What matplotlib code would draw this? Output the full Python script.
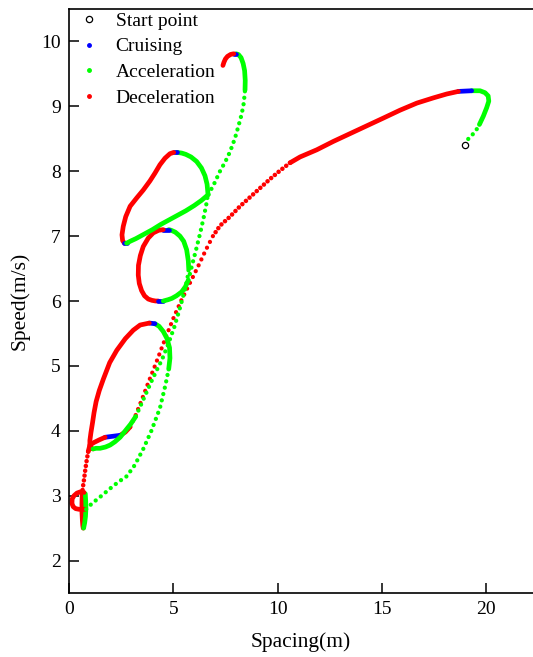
import matplotlib
matplotlib.use("Agg")
import matplotlib.pyplot as plt
from matplotlib.lines import Line2D

plt.rcParams['font.family'] = ['Liberation Serif', 'DejaVu Serif']

#Start point of the trajectory
start_x = [18.99]
start_y = [8.41]

#Trajectory pieces, in time order (spacing in m, speed in m/s)
acc1a_x = [18.99, 19.15, 19.31, 19.52, 19.68]
acc1a_y = [8.41, 8.50, 8.55, 8.63, 8.72]
acc1b_x = [19.68, 19.87, 20.03, 20.13, 20.10, 19.95, 19.71, 19.31]
acc1b_y = [8.72, 8.85, 8.98, 9.08, 9.16, 9.21, 9.24, 9.24]
cru1_x = [19.31, 18.67]
cru1_y = [9.24, 9.23]
dec1a_x = [18.67, 18.11, 17.47, 16.68, 15.87, 15.08, 14.28, 13.48, 12.68, 11.88, 11.08, 10.60]
dec1a_y = [9.23, 9.19, 9.13, 9.05, 8.94, 8.82, 8.70, 8.58, 8.46, 8.33, 8.22, 8.13]
dec1b_x = [10.60, 10.12, 9.64, 9.16, 8.68, 8.20, 7.72, 7.24, 6.90]
dec1b_y = [8.13, 8.01, 7.88, 7.74, 7.60, 7.46, 7.30, 7.16, 7.00]
dec1c_x = [6.90, 6.55, 6.20, 5.80, 5.40, 5.05, 4.75, 4.45, 4.12, 3.80, 3.48, 3.17, 2.93]
dec1c_y = [7.00, 6.78, 6.54, 6.28, 6.02, 5.77, 5.53, 5.28, 5.00, 4.74, 4.47, 4.22, 4.06]
dec1d_x = [2.93, 2.70, 2.45]
dec1d_y = [4.06, 3.98, 3.93]
cru2_x = [2.45, 1.73]
cru2_y = [3.93, 3.90]
dec2a_x = [1.73, 1.45, 1.20, 1.00, 0.92]
dec2a_y = [3.90, 3.86, 3.82, 3.78, 3.68]
dec2b_x = [0.92, 0.85, 0.78, 0.72, 0.66, 0.63]
dec2b_y = [3.68, 3.55, 3.40, 3.25, 3.12, 3.02]
dec2c_x = [0.63, 0.62, 0.62, 0.64, 0.66, 0.68]
dec2c_y = [3.02, 2.88, 2.75, 2.62, 2.54, 2.50]
acc2_x = [0.70, 0.75, 0.79, 0.81, 0.80, 0.78]
acc2_y = [2.50, 2.58, 2.68, 2.80, 2.92, 3.03]
dec3_x = [0.72, 0.55, 0.38, 0.24, 0.15, 0.14, 0.20, 0.32, 0.48, 0.62, 0.78]
dec3_y = [3.05, 3.06, 3.04, 3.00, 2.95, 2.88, 2.83, 2.80, 2.79, 2.79, 2.79]
acc3a_x = [0.82, 1.10, 1.49, 1.97, 2.36, 2.77, 3.15, 3.56, 3.95, 4.36, 4.62, 4.78]
acc3a_y = [2.79, 2.88, 2.98, 3.11, 3.21, 3.30, 3.47, 3.72, 4.00, 4.35, 4.70, 4.95]
acc3b_x = [4.78, 4.84, 4.82, 4.70, 4.52, 4.32, 4.12]
acc3b_y = [4.95, 5.12, 5.28, 5.42, 5.53, 5.61, 5.65]
cru3_x = [4.12, 3.85]
cru3_y = [5.65, 5.66]
dec4_x = [3.85, 3.41, 3.08, 2.70, 2.29, 1.95, 1.65, 1.45, 1.30, 1.20, 1.13, 1.05, 1.00, 1.00, 1.05, 1.15]
dec4_y = [5.66, 5.63, 5.55, 5.42, 5.24, 5.05, 4.80, 4.62, 4.45, 4.28, 4.13, 3.97, 3.85, 3.77, 3.73, 3.72]
acc4a_x = [1.15, 1.30, 1.49, 1.75, 1.97, 2.20, 2.45, 2.70, 2.95, 3.20]
acc4a_y = [3.72, 3.73, 3.73, 3.75, 3.78, 3.83, 3.90, 4.00, 4.10, 4.22]
acc4b_x = [3.20, 3.45, 3.70, 3.95, 4.20, 4.45, 4.75, 5.05, 5.30, 5.52, 5.68, 5.74]
acc4b_y = [4.22, 4.40, 4.58, 4.76, 4.93, 5.09, 5.33, 5.60, 5.87, 6.13, 6.35, 6.50]
acc4c_x = [5.74, 5.72, 5.64, 5.50, 5.32, 5.10, 4.90, 4.78]
acc4c_y = [6.50, 6.62, 6.79, 6.92, 7.00, 7.06, 7.09, 7.10]
cru4_x = [4.78, 4.52]
cru4_y = [7.10, 7.10]
dec5_x = [4.52, 4.30, 4.04, 3.80, 3.56, 3.42, 3.33, 3.32, 3.37, 3.48, 3.62, 3.80, 3.98, 4.15, 4.28]
dec5_y = [7.10, 7.09, 7.05, 6.97, 6.84, 6.70, 6.55, 6.40, 6.27, 6.16, 6.08, 6.03, 6.01, 6.00, 6.00]
cru5_x = [4.28, 4.52]
cru5_y = [6.00, 6.00]
acc5a_x = [4.52, 4.75, 4.93, 5.15, 5.40, 5.58, 5.72]
acc5a_y = [6.00, 6.02, 6.04, 6.08, 6.14, 6.22, 6.32]
acc5b_x = [5.72, 5.90, 6.10, 6.30, 6.48, 6.62, 6.66]
acc5b_y = [6.32, 6.55, 6.80, 7.06, 7.32, 7.55, 7.66]
acc5c_x = [6.66, 6.62, 6.52, 6.35, 6.12, 5.85, 5.60, 5.40, 5.18]
acc5c_y = [7.66, 7.80, 7.93, 8.05, 8.15, 8.22, 8.26, 8.28, 8.29]
cru6_x = [5.18, 5.02]
cru6_y = [8.29, 8.29]
dec6_x = [5.02, 4.84, 4.60, 4.36, 4.12, 3.88, 3.56, 3.25, 2.93, 2.72, 2.60, 2.54, 2.57, 2.66]
dec6_y = [8.29, 8.27, 8.20, 8.10, 7.97, 7.85, 7.71, 7.59, 7.46, 7.30, 7.15, 7.02, 6.93, 6.89]
cru7_x = [2.66, 2.76]
cru7_y = [6.89, 6.89]
acc6a_x = [2.76, 2.93, 3.20, 3.60, 4.00, 4.40, 4.80, 5.20, 5.60, 6.00, 6.35, 6.68]
acc6a_y = [6.89, 6.92, 6.96, 7.03, 7.10, 7.18, 7.25, 7.32, 7.39, 7.47, 7.55, 7.64]
acc6b_x = [6.68, 6.95, 7.24, 7.50, 7.72, 7.95, 8.12, 8.28, 8.38, 8.44]
acc6b_y = [7.64, 7.80, 8.00, 8.15, 8.30, 8.50, 8.69, 8.88, 9.05, 9.25]
acc6c_x = [8.44, 8.45, 8.42, 8.35, 8.25, 8.12, 8.00]
acc6c_y = [9.25, 9.40, 9.55, 9.66, 9.75, 9.80, 9.81]
cru8_x = [8.00, 7.90]
cru8_y = [9.81, 9.81]
dec7_x = [7.90, 7.75, 7.60, 7.50, 7.43, 7.38]
dec7_y = [9.81, 9.80, 9.77, 9.73, 9.68, 9.63]

#(x, y, state, look) in time order
pieces = [
    (acc1a_x, acc1a_y, 'acc', 'sparse'), (acc1b_x, acc1b_y, 'acc', 'solid'),
    (cru1_x, cru1_y, 'cru', 'solid'),
    (dec1a_x, dec1a_y, 'dec', 'solid'), (dec1b_x, dec1b_y, 'dec', 'dense'),
    (dec1c_x, dec1c_y, 'dec', 'sparse'), (dec1d_x, dec1d_y, 'dec', 'solid'),
    (cru2_x, cru2_y, 'cru', 'solid'),
    (dec2a_x, dec2a_y, 'dec', 'solid'), (dec2b_x, dec2b_y, 'dec', 'dense'),
    (dec2c_x, dec2c_y, 'dec', 'solid'),
    (acc2_x, acc2_y, 'acc', 'solid'),
    (dec3_x, dec3_y, 'dec', 'solid'),
    (acc3a_x, acc3a_y, 'acc', 'sparse'), (acc3b_x, acc3b_y, 'acc', 'solid'),
    (cru3_x, cru3_y, 'cru', 'solid'),
    (dec4_x, dec4_y, 'dec', 'solid'),
    (acc4a_x, acc4a_y, 'acc', 'solid'), (acc4b_x, acc4b_y, 'acc', 'sparse'),
    (acc4c_x, acc4c_y, 'acc', 'solid'),
    (cru4_x, cru4_y, 'cru', 'solid'),
    (dec5_x, dec5_y, 'dec', 'solid'),
    (cru5_x, cru5_y, 'cru', 'solid'),
    (acc5a_x, acc5a_y, 'acc', 'solid'), (acc5b_x, acc5b_y, 'acc', 'sparse'),
    (acc5c_x, acc5c_y, 'acc', 'solid'),
    (cru6_x, cru6_y, 'cru', 'solid'),
    (dec6_x, dec6_y, 'dec', 'solid'),
    (cru7_x, cru7_y, 'cru', 'solid'),
    (acc6a_x, acc6a_y, 'acc', 'solid'), (acc6b_x, acc6b_y, 'acc', 'sparse'),
    (acc6c_x, acc6c_y, 'acc', 'solid'),
    (cru8_x, cru8_y, 'cru', 'solid'),
    (dec7_x, dec7_y, 'dec', 'solid'),
]

colors = {'cru': '#0000ff', 'acc': '#00ff00', 'dec': '#ff0000'}
looks = {
    'solid': dict(lw=3.4, ls='-'),
    'dense': dict(lw=3.3, ls=(0, (0.01, 1.05))),
    'sparse': dict(lw=3.1, ls=(0, (0.01, 1.5))),
}

fig = plt.figure(figsize=(5.33, 6.57), dpi=100)
ax = fig.add_axes([0.1295, 0.0974, 0.8705, 0.8889])

for x, y, state, look in pieces:
    ax.plot(x, y, color=colors[state], solid_capstyle='round', solid_joinstyle='round',
            dash_capstyle='round', **looks[look])

ax.plot(start_x, start_y, 'o', mfc='white', mec='black', mew=0.9, ms=4.5, zorder=5)

#Axes look
ax.set_xlim(0, 22.25)
ax.set_ylim(1.5, 10.5)
ax.set_xticks([0, 5, 10, 15, 20])
ax.set_yticks([2, 3, 4, 5, 6, 7, 8, 9, 10])
ax.spines['right'].set_visible(False)
for s in ['left', 'bottom', 'top']:
    ax.spines[s].set_linewidth(1.2)
ax.tick_params(direction='in', length=7, width=1.1, labelsize=14, pad=6)
ax.set_xlabel("Spacing(m)", fontsize=15.5, labelpad=10)
ax.set_ylabel("Speed(m/s)", fontsize=15.5, labelpad=8)

handles = [
    Line2D([], [], marker='o', ls='none', mfc='white', mec='black', mew=0.9, ms=4.5),
    Line2D([], [], marker='.', ls='none', color='#0000ff', ms=5),
    Line2D([], [], marker='.', ls='none', color='#00ff00', ms=5),
    Line2D([], [], marker='.', ls='none', color='#ff0000', ms=5),
]
ax.legend(handles, ["Start point", "Cruising", "Acceleration", "Deceleration"],
          loc='upper left', bbox_to_anchor=(0.0, 1.008), frameon=False, fontsize=14,
          handlelength=1.3, handletextpad=0.7, labelspacing=0.42, borderaxespad=0.0)

plt.savefig("out.png", dpi=100)
